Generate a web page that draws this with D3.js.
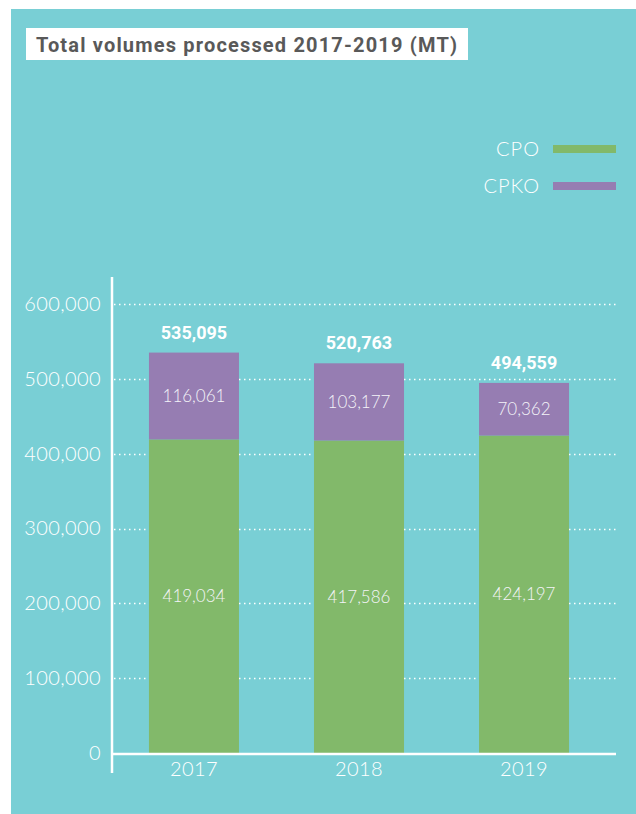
<!DOCTYPE html>
<html>
<head>
<meta charset="utf-8">
<script src="https://cdn.jsdelivr.net/npm/d3@7"></script>
<style>
  body { margin: 0; background: #ffffff; }
  svg { display: block; }
</style>
</head>
<body>
<svg id="chart" width="636" height="814"></svg>
<script>
var years = ["2017", "2018", "2019"];
var cpoValues = [419034, 417586, 424197];
var cpkoValues = [116061, 103177, 70362];
var totalValues = [535095, 520763, 494559];
var yTicks = [0, 100000, 200000, 300000, 400000, 500000, 600000];
var seriesNames = ["CPO", "CPKO"];

var teal = "#79cfd5";
var green = "#82b96a";
var purple = "#967db2";
var fontLight = "Lato, 'Open Sans', sans-serif";

var formatNum = d3.format(",");

var svg = d3.select("#chart");

// teal panel
svg.append("rect")
  .attr("x", 11).attr("y", 9)
  .attr("width", 625).attr("height", 805)
  .attr("fill", teal);

// title box
svg.append("rect")
  .attr("x", 26).attr("y", 28)
  .attr("width", 442).attr("height", 32)
  .attr("fill", "#ffffff");
svg.append("text")
  .attr("x", 36).attr("y", 51.5)
  .attr("font-family", "Roboto, 'Open Sans', sans-serif")
  .attr("font-weight", 700)
  .attr("font-size", 20)
  .attr("textLength", 421)
  .attr("lengthAdjust", "spacing")
  .attr("fill", "#595959")
  .text("Total volumes processed 2017-2019 (MT)");

// legend
var legendColors = [green, purple];
var legend = svg.append("g");
seriesNames.forEach(function(name, i){
  var ly = 149 + i * 37;
  legend.append("rect")
    .attr("x", 553).attr("y", ly - 4)
    .attr("width", 63).attr("height", 8)
    .attr("fill", legendColors[i]);
  legend.append("text")
    .attr("x", 540).attr("y", ly + 7)
    .attr("text-anchor", "end")
    .attr("font-family", fontLight)
    .attr("font-weight", 300)
    .attr("font-size", 20)
    .attr("letter-spacing", 1)
    .attr("fill", "#ffffff")
    .text(name);
});

var x = d3.scaleBand()
  .domain(years)
  .range([111, 607])
  .paddingInner(0.4545)
  .paddingOuter(0.23);

var y = d3.scaleLinear()
  .domain([0, 600000])
  .range([753, 304]);

// dotted gridlines
svg.append("g")
  .selectAll("line")
  .data(yTicks.filter(function(d){ return d > 0; }))
  .join("line")
  .attr("x1", 114).attr("x2", 616)
  .attr("y1", function(d){ return Math.round(y(d)) + 0.5; })
  .attr("y2", function(d){ return Math.round(y(d)) + 0.5; })
  .attr("stroke", "#ffffff")
  .attr("stroke-width", 1.3)
  .attr("stroke-dasharray", "1.5,3.5");

// y axis labels
var yAxis = d3.axisLeft(y).tickValues(yTicks).tickSize(0).tickPadding(0).tickFormat(formatNum);
var yAxisG = svg.append("g")
  .attr("transform", "translate(101,0)")
  .call(yAxis);
yAxisG.select(".domain").remove();
yAxisG.selectAll("text")
  .attr("font-family", fontLight)
  .attr("font-weight", 300)
  .attr("font-size", 20)
  .attr("letter-spacing", 0.4)
  .attr("fill", "#ffffff");

// bars
var cpoBars = svg.append("g");
years.forEach(function(yr, i){
  cpoBars.append("rect")
    .attr("x", x(yr))
    .attr("y", y(cpoValues[i]))
    .attr("width", x.bandwidth())
    .attr("height", y(0) - y(cpoValues[i]))
    .attr("fill", green);
  cpoBars.append("rect")
    .attr("x", x(yr))
    .attr("y", y(cpoValues[i] + cpkoValues[i]))
    .attr("width", x.bandwidth())
    .attr("height", y(cpoValues[i]) - y(cpoValues[i] + cpkoValues[i]))
    .attr("fill", purple);

  var cx = x(yr) + x.bandwidth() / 2;
  cpoBars.append("text")
    .attr("x", cx)
    .attr("y", (y(0) + y(cpoValues[i])) / 2)
    .attr("dy", "0.35em")
    .attr("text-anchor", "middle")
    .attr("font-family", fontLight)
    .attr("font-weight", 300)
    .attr("font-size", 17)
    .attr("fill", "#f4f4f8")
    .text(formatNum(cpoValues[i]));
  cpoBars.append("text")
    .attr("x", cx)
    .attr("y", (y(cpoValues[i]) + y(cpoValues[i] + cpkoValues[i])) / 2)
    .attr("dy", "0.35em")
    .attr("text-anchor", "middle")
    .attr("font-family", fontLight)
    .attr("font-weight", 300)
    .attr("font-size", 17)
    .attr("fill", "#f4f4f8")
    .text(formatNum(cpkoValues[i]));
  cpoBars.append("text")
    .attr("x", cx)
    .attr("y", y(cpoValues[i] + cpkoValues[i]) - 14)
    .attr("text-anchor", "middle")
    .attr("font-family", "Roboto, 'Open Sans', sans-serif")
    .attr("font-weight", 700)
    .attr("font-size", 18)
    .attr("fill", "#ffffff")
    .text(formatNum(totalValues[i]));
});

// axis lines
svg.append("line")
  .attr("x1", 112).attr("x2", 112)
  .attr("y1", 277).attr("y2", 773)
  .attr("stroke", "#ffffff").attr("stroke-width", 2.5);
svg.append("line")
  .attr("x1", 111).attr("x2", 616)
  .attr("y1", 754).attr("y2", 754)
  .attr("stroke", "#ffffff").attr("stroke-width", 2.5);

// x axis labels
var xAxis = d3.axisBottom(x).tickSize(0).tickPadding(0);
var xAxisG = svg.append("g")
  .attr("transform", "translate(0,762)")
  .call(xAxis);
xAxisG.select(".domain").remove();
xAxisG.selectAll("text")
  .attr("dy", "0.71em")
  .attr("font-family", fontLight)
  .attr("font-weight", 300)
  .attr("font-size", 20)
  .attr("letter-spacing", 0.4)
  .attr("fill", "#ffffff");
</script>
</body>
</html>
